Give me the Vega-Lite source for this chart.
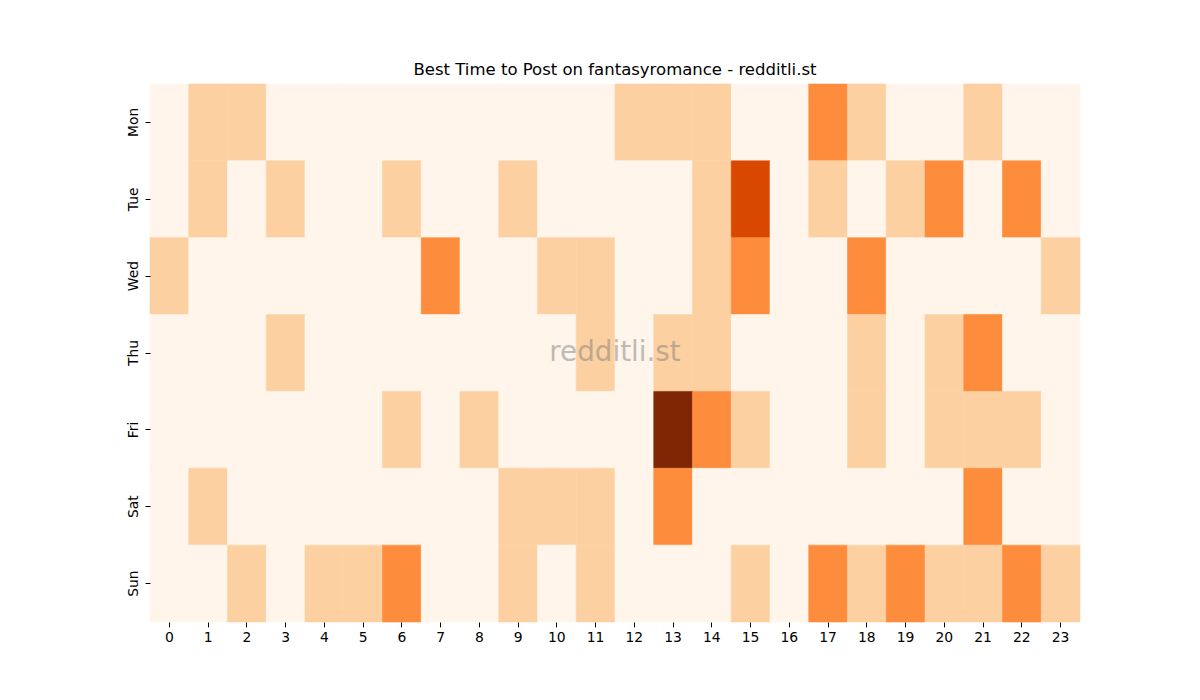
{
  "$schema": "https://vega.github.io/schema/vega-lite/v6.json",
  "autosize": "none",
  "padding": {"left": 150, "top": 84, "right": 120, "bottom": 78},
  "width": 930,
  "height": 538,
  "background": "white",
  "title": {
    "text": "Best Time to Post on fantasyromance - redditli.st",
    "font": "DejaVu Sans",
    "fontSize": 16.5,
    "fontWeight": "normal",
    "color": "black",
    "offset": 5
  },
  "config": {
    "view": {"stroke": null},
    "axis": {
      "labelFont": "DejaVu Sans",
      "labelFontSize": 13.9,
      "labelColor": "black",
      "tickColor": "black",
      "tickSize": 4.9,
      "domain": false,
      "grid": false,
      "title": null
    }
  },
  "data": {
    "values": [
      {"day": "Mon", "hour": 0, "v": 0}, {"day": "Mon", "hour": 1, "v": 1}, {"day": "Mon", "hour": 2, "v": 1}, {"day": "Mon", "hour": 3, "v": 0},
      {"day": "Mon", "hour": 4, "v": 0}, {"day": "Mon", "hour": 5, "v": 0}, {"day": "Mon", "hour": 6, "v": 0}, {"day": "Mon", "hour": 7, "v": 0},
      {"day": "Mon", "hour": 8, "v": 0}, {"day": "Mon", "hour": 9, "v": 0}, {"day": "Mon", "hour": 10, "v": 0}, {"day": "Mon", "hour": 11, "v": 0},
      {"day": "Mon", "hour": 12, "v": 1}, {"day": "Mon", "hour": 13, "v": 1}, {"day": "Mon", "hour": 14, "v": 1}, {"day": "Mon", "hour": 15, "v": 0},
      {"day": "Mon", "hour": 16, "v": 0}, {"day": "Mon", "hour": 17, "v": 2}, {"day": "Mon", "hour": 18, "v": 1}, {"day": "Mon", "hour": 19, "v": 0},
      {"day": "Mon", "hour": 20, "v": 0}, {"day": "Mon", "hour": 21, "v": 1}, {"day": "Mon", "hour": 22, "v": 0}, {"day": "Mon", "hour": 23, "v": 0},

      {"day": "Tue", "hour": 0, "v": 0}, {"day": "Tue", "hour": 1, "v": 1}, {"day": "Tue", "hour": 2, "v": 0}, {"day": "Tue", "hour": 3, "v": 1},
      {"day": "Tue", "hour": 4, "v": 0}, {"day": "Tue", "hour": 5, "v": 0}, {"day": "Tue", "hour": 6, "v": 1}, {"day": "Tue", "hour": 7, "v": 0},
      {"day": "Tue", "hour": 8, "v": 0}, {"day": "Tue", "hour": 9, "v": 1}, {"day": "Tue", "hour": 10, "v": 0}, {"day": "Tue", "hour": 11, "v": 0},
      {"day": "Tue", "hour": 12, "v": 0}, {"day": "Tue", "hour": 13, "v": 0}, {"day": "Tue", "hour": 14, "v": 1}, {"day": "Tue", "hour": 15, "v": 3},
      {"day": "Tue", "hour": 16, "v": 0}, {"day": "Tue", "hour": 17, "v": 1}, {"day": "Tue", "hour": 18, "v": 0}, {"day": "Tue", "hour": 19, "v": 1},
      {"day": "Tue", "hour": 20, "v": 2}, {"day": "Tue", "hour": 21, "v": 0}, {"day": "Tue", "hour": 22, "v": 2}, {"day": "Tue", "hour": 23, "v": 0},

      {"day": "Wed", "hour": 0, "v": 1}, {"day": "Wed", "hour": 1, "v": 0}, {"day": "Wed", "hour": 2, "v": 0}, {"day": "Wed", "hour": 3, "v": 0},
      {"day": "Wed", "hour": 4, "v": 0}, {"day": "Wed", "hour": 5, "v": 0}, {"day": "Wed", "hour": 6, "v": 0}, {"day": "Wed", "hour": 7, "v": 2},
      {"day": "Wed", "hour": 8, "v": 0}, {"day": "Wed", "hour": 9, "v": 0}, {"day": "Wed", "hour": 10, "v": 1}, {"day": "Wed", "hour": 11, "v": 1},
      {"day": "Wed", "hour": 12, "v": 0}, {"day": "Wed", "hour": 13, "v": 0}, {"day": "Wed", "hour": 14, "v": 1}, {"day": "Wed", "hour": 15, "v": 2},
      {"day": "Wed", "hour": 16, "v": 0}, {"day": "Wed", "hour": 17, "v": 0}, {"day": "Wed", "hour": 18, "v": 2}, {"day": "Wed", "hour": 19, "v": 0},
      {"day": "Wed", "hour": 20, "v": 0}, {"day": "Wed", "hour": 21, "v": 0}, {"day": "Wed", "hour": 22, "v": 0}, {"day": "Wed", "hour": 23, "v": 1},

      {"day": "Thu", "hour": 0, "v": 0}, {"day": "Thu", "hour": 1, "v": 0}, {"day": "Thu", "hour": 2, "v": 0}, {"day": "Thu", "hour": 3, "v": 1},
      {"day": "Thu", "hour": 4, "v": 0}, {"day": "Thu", "hour": 5, "v": 0}, {"day": "Thu", "hour": 6, "v": 0}, {"day": "Thu", "hour": 7, "v": 0},
      {"day": "Thu", "hour": 8, "v": 0}, {"day": "Thu", "hour": 9, "v": 0}, {"day": "Thu", "hour": 10, "v": 0}, {"day": "Thu", "hour": 11, "v": 1},
      {"day": "Thu", "hour": 12, "v": 0}, {"day": "Thu", "hour": 13, "v": 1}, {"day": "Thu", "hour": 14, "v": 1}, {"day": "Thu", "hour": 15, "v": 0},
      {"day": "Thu", "hour": 16, "v": 0}, {"day": "Thu", "hour": 17, "v": 0}, {"day": "Thu", "hour": 18, "v": 1}, {"day": "Thu", "hour": 19, "v": 0},
      {"day": "Thu", "hour": 20, "v": 1}, {"day": "Thu", "hour": 21, "v": 2}, {"day": "Thu", "hour": 22, "v": 0}, {"day": "Thu", "hour": 23, "v": 0},

      {"day": "Fri", "hour": 0, "v": 0}, {"day": "Fri", "hour": 1, "v": 0}, {"day": "Fri", "hour": 2, "v": 0}, {"day": "Fri", "hour": 3, "v": 0},
      {"day": "Fri", "hour": 4, "v": 0}, {"day": "Fri", "hour": 5, "v": 0}, {"day": "Fri", "hour": 6, "v": 1}, {"day": "Fri", "hour": 7, "v": 0},
      {"day": "Fri", "hour": 8, "v": 1}, {"day": "Fri", "hour": 9, "v": 0}, {"day": "Fri", "hour": 10, "v": 0}, {"day": "Fri", "hour": 11, "v": 0},
      {"day": "Fri", "hour": 12, "v": 0}, {"day": "Fri", "hour": 13, "v": 4}, {"day": "Fri", "hour": 14, "v": 2}, {"day": "Fri", "hour": 15, "v": 1},
      {"day": "Fri", "hour": 16, "v": 0}, {"day": "Fri", "hour": 17, "v": 0}, {"day": "Fri", "hour": 18, "v": 1}, {"day": "Fri", "hour": 19, "v": 0},
      {"day": "Fri", "hour": 20, "v": 1}, {"day": "Fri", "hour": 21, "v": 1}, {"day": "Fri", "hour": 22, "v": 1}, {"day": "Fri", "hour": 23, "v": 0},

      {"day": "Sat", "hour": 0, "v": 0}, {"day": "Sat", "hour": 1, "v": 1}, {"day": "Sat", "hour": 2, "v": 0}, {"day": "Sat", "hour": 3, "v": 0},
      {"day": "Sat", "hour": 4, "v": 0}, {"day": "Sat", "hour": 5, "v": 0}, {"day": "Sat", "hour": 6, "v": 0}, {"day": "Sat", "hour": 7, "v": 0},
      {"day": "Sat", "hour": 8, "v": 0}, {"day": "Sat", "hour": 9, "v": 1}, {"day": "Sat", "hour": 10, "v": 1}, {"day": "Sat", "hour": 11, "v": 1},
      {"day": "Sat", "hour": 12, "v": 0}, {"day": "Sat", "hour": 13, "v": 2}, {"day": "Sat", "hour": 14, "v": 0}, {"day": "Sat", "hour": 15, "v": 0},
      {"day": "Sat", "hour": 16, "v": 0}, {"day": "Sat", "hour": 17, "v": 0}, {"day": "Sat", "hour": 18, "v": 0}, {"day": "Sat", "hour": 19, "v": 0},
      {"day": "Sat", "hour": 20, "v": 0}, {"day": "Sat", "hour": 21, "v": 2}, {"day": "Sat", "hour": 22, "v": 0}, {"day": "Sat", "hour": 23, "v": 0},

      {"day": "Sun", "hour": 0, "v": 0}, {"day": "Sun", "hour": 1, "v": 0}, {"day": "Sun", "hour": 2, "v": 1}, {"day": "Sun", "hour": 3, "v": 0},
      {"day": "Sun", "hour": 4, "v": 1}, {"day": "Sun", "hour": 5, "v": 1}, {"day": "Sun", "hour": 6, "v": 2}, {"day": "Sun", "hour": 7, "v": 0},
      {"day": "Sun", "hour": 8, "v": 0}, {"day": "Sun", "hour": 9, "v": 1}, {"day": "Sun", "hour": 10, "v": 0}, {"day": "Sun", "hour": 11, "v": 1},
      {"day": "Sun", "hour": 12, "v": 0}, {"day": "Sun", "hour": 13, "v": 0}, {"day": "Sun", "hour": 14, "v": 0}, {"day": "Sun", "hour": 15, "v": 1},
      {"day": "Sun", "hour": 16, "v": 0}, {"day": "Sun", "hour": 17, "v": 2}, {"day": "Sun", "hour": 18, "v": 1}, {"day": "Sun", "hour": 19, "v": 2},
      {"day": "Sun", "hour": 20, "v": 1}, {"day": "Sun", "hour": 21, "v": 1}, {"day": "Sun", "hour": 22, "v": 2}, {"day": "Sun", "hour": 23, "v": 1}
    ]
  },
  "layer": [
    {
      "mark": {"type": "rect", "strokeWidth": 0.6},
      "encoding": {
        "x": {
          "field": "hour",
          "type": "ordinal",
          "sort": "ascending",
          "scale": {"paddingInner": 0, "paddingOuter": 0},
          "axis": {"labelAngle": 0, "orient": "bottom", "labelPadding": 4}
        },
        "y": {
          "field": "day",
          "type": "ordinal",
          "sort": ["Mon", "Tue", "Wed", "Thu", "Fri", "Sat", "Sun"],
          "scale": {"paddingInner": 0, "paddingOuter": 0},
          "axis": {"labelAngle": -90, "labelAlign": "center", "labelBaseline": "bottom", "labelPadding": 5}
        },
        "color": {
          "field": "v",
          "type": "ordinal",
          "scale": {
            "domain": [0, 1, 2, 3, 4],
            "range": ["#fff5eb", "#fdd0a2", "#fd8d3c", "#d94801", "#7f2704"]
          },
          "legend": null
        },
        "stroke": {
          "field": "v",
          "type": "ordinal",
          "scale": {
            "domain": [0, 1, 2, 3, 4],
            "range": ["#fff5eb", "#fdd0a2", "#fd8d3c", "#d94801", "#7f2704"]
          },
          "legend": null
        }
      }
    },
    {
      "data": {"values": [{"label": "redditli.st"}]},
      "mark": {
        "type": "text",
        "font": "DejaVu Sans",
        "fontSize": 27.8,
        "color": "#808080",
        "opacity": 0.5,
        "align": "center",
        "baseline": "middle"
      },
      "encoding": {
        "x": {"datum": 12, "type": "ordinal", "bandPosition": 0},
        "y": {"datum": "Thu", "type": "ordinal", "bandPosition": 0.5},
        "text": {"field": "label"}
      }
    }
  ]
}
